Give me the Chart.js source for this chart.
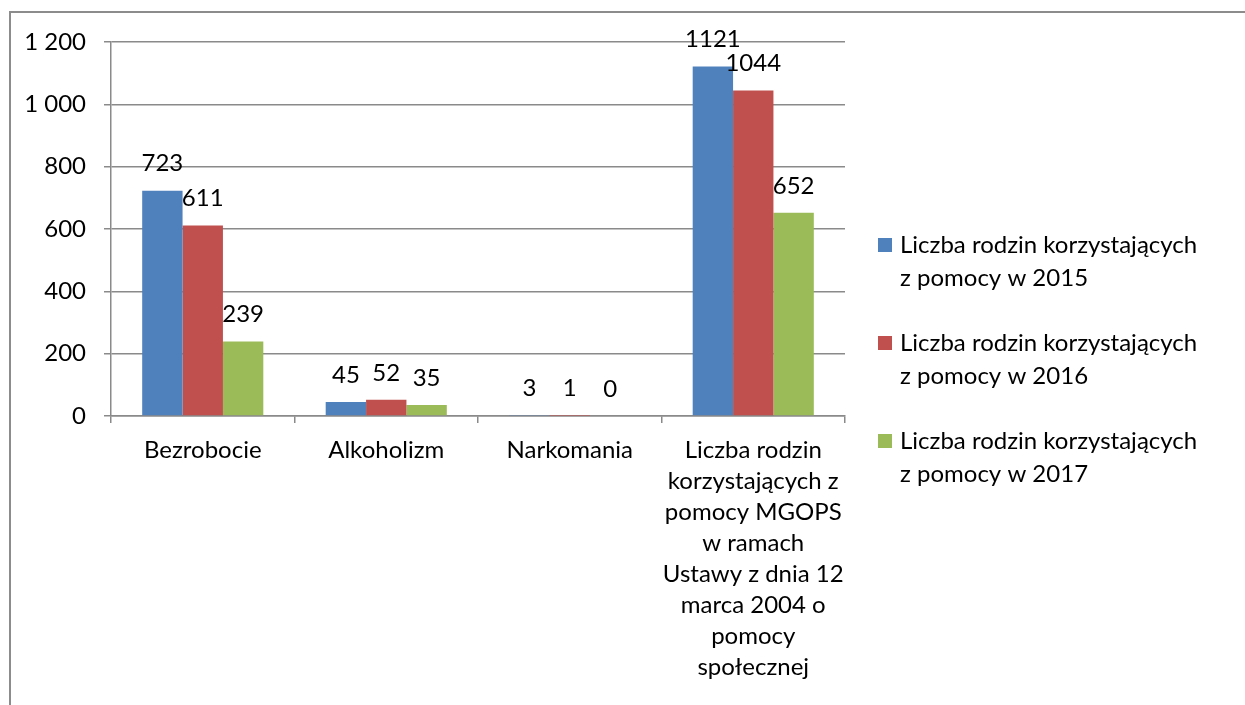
<!DOCTYPE html>
<html>
<head>
<meta charset="utf-8">
<script src="https://cdn.jsdelivr.net/npm/chart.js@4"></script>
<style>
  body { margin: 0; background: #fff; overflow: hidden; }
  #frame { position: absolute; left: 9px; top: 11px; width: 1260px; height: 720px; border: 2px solid #8c8c8c; }
  #wrap { position: absolute; left: 0; top: 0; width: 1245px; height: 705px; }
</style>
</head>
<body>
<div id="frame"></div>
<div id="wrap"><canvas id="chart"></canvas></div>
<script>
// values
const categories = [
  'Bezrobocie',
  'Alkoholizm',
  'Narkomania',
  ['Liczba rodzin', 'korzystających z', 'pomocy MGOPS', 'w ramach', 'Ustawy z dnia 12', 'marca 2004 o', 'pomocy', 'społecznej']
];
const seriesNames = [
  'Liczba rodzin korzystających z pomocy w 2015',
  'Liczba rodzin korzystających z pomocy w 2016',
  'Liczba rodzin korzystających z pomocy w 2017'
];
const values2015 = [723, 45, 3, 1121];
const values2016 = [611, 52, 1, 1044];
const values2017 = [239, 35, 0, 652];
const colors = ['#4F81BD', '#C0504D', '#9BBB59'];

const FONT = 'Lato, "Liberation Sans", sans-serif';
const FS = 24;
const gridColor = '#8a8a8a';

// value labels over the bars
const barLabels = {
  id: 'barLabels',
  afterDatasetsDraw(chart) {
    const ctx = chart.ctx;
    ctx.save();
    ctx.font = FS + 'px ' + FONT;
    ctx.fillStyle = '#000';
    ctx.textAlign = 'center';
    ctx.textBaseline = 'middle';
    chart.data.datasets.forEach((ds, i) => {
      chart.getDatasetMeta(i).data.forEach((el, j) => {
        ctx.fillText(String(ds.data[j]), el.x, el.y - 27);
      });
    });
    ctx.restore();
  }
};

// legend on the right with wrapped text
const sideLegend = {
  id: 'sideLegend',
  afterDraw(chart) {
    const ctx = chart.ctx;
    ctx.save();
    ctx.font = FS + 'px ' + FONT;
    ctx.textBaseline = 'middle';
    chart.data.datasets.forEach((ds, i) => {
      const y0 = 245 + i * 98;
      ctx.fillStyle = ds.backgroundColor;
      ctx.fillRect(878, y0 - 7, 14, 14);
      ctx.fillStyle = '#000';
      let words = ds.label.split(' '), line = '', lines = [];
      words.forEach(w => {
        const t = line ? line + ' ' + w : w;
        if (ctx.measureText(t).width > 305 && line) { lines.push(line); line = w; }
        else line = t;
      });
      lines.push(line);
      lines.forEach((l, k) => ctx.fillText(l, 900, y0 + k * 33));
    });
    ctx.restore();
  }
};

new Chart(document.getElementById('chart'), {
  type: 'bar',
  data: {
    labels: categories,
    datasets: [
      { label: seriesNames[0], data: values2015, backgroundColor: colors[0] },
      { label: seriesNames[1], data: values2016, backgroundColor: colors[1] },
      { label: seriesNames[2], data: values2017, backgroundColor: colors[2] }
    ]
  },
  options: {
    responsive: true,
    maintainAspectRatio: false,
    animation: false,
    layout: { padding: { top: 42, right: 400, left: 0, bottom: 0 } },
    plugins: {
      legend: { display: false },
      tooltip: { enabled: false }
    },
    datasets: { bar: { categoryPercentage: 0.66, barPercentage: 1 } },
    scales: {
      x: {
        grid: { drawOnChartArea: false, drawTicks: true, tickLength: 7, offset: true, color: gridColor, lineWidth: 1.5 },
        border: { color: gridColor, width: 1.5 },
        ticks: { color: '#000', padding: 12, maxRotation: 0, autoSkip: false, font: { family: FONT, size: FS, lineHeight: 31 / FS } },
        afterFit(scale) { scale.height = 289; }
      },
      y: {
        min: 0,
        max: 1200,
        ticks: {
          stepSize: 200,
          color: '#000',
          padding: 18,
          font: { family: FONT, size: FS },
          callback: v => String(v).replace(/\B(?=(\d{3})+(?!\d))/g, ' ')
        },
        grid: { color: gridColor, lineWidth: 1.5, tickLength: 7 },
        border: { color: gridColor, width: 1.5 },
        afterFit(scale) { scale.width = 111; }
      }
    }
  },
  plugins: [barLabels, sideLegend]
});
</script>
</body>
</html>
